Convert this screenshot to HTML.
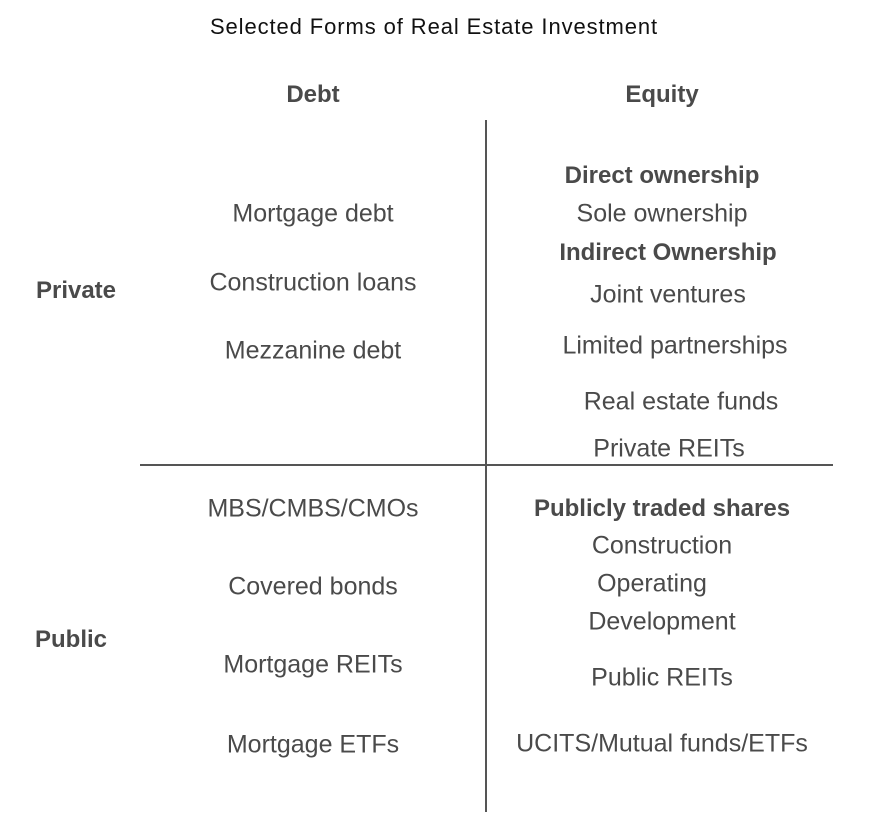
<!DOCTYPE html>
<html><head><meta charset="utf-8"><style>
body{margin:0;width:870px;height:821px;background:#fff;position:relative;overflow:hidden;font-family:"Liberation Sans",sans-serif;}
.t{position:absolute;transform:translate(-50%,-50%);white-space:nowrap;color:#4a4a4a;font-size:25px;}
.b{font-weight:bold;font-size:24px;}
.ln{position:absolute;background:#555;}
</style></head><body>
<div class="t" style="left:434px;top:27px;color:#111;font-size:22px;letter-spacing:0.9px;">Selected Forms of Real Estate Investment</div>
<div class="ln" style="left:485px;top:120px;width:2px;height:692px;"></div>
<div class="ln" style="left:140px;top:464px;width:693px;height:2px;"></div>
<div class="t b" style="left:313px;top:95px;">Debt</div>
<div class="t b" style="left:662px;top:95px;">Equity</div>
<div class="t b" style="left:76px;top:291px;">Private</div>
<div class="t b" style="left:71px;top:640px;">Public</div>
<div class="t" style="left:313px;top:214px;">Mortgage debt</div>
<div class="t" style="left:313px;top:283px;">Construction loans</div>
<div class="t" style="left:313px;top:351px;">Mezzanine debt</div>
<div class="t" style="left:313px;top:509px;">MBS/CMBS/CMOs</div>
<div class="t" style="left:313px;top:587px;">Covered bonds</div>
<div class="t" style="left:313px;top:665px;">Mortgage REITs</div>
<div class="t" style="left:313px;top:745px;">Mortgage ETFs</div>
<div class="t b" style="left:662px;top:176px;">Direct ownership</div>
<div class="t" style="left:662px;top:214px;">Sole ownership</div>
<div class="t b" style="left:668px;top:253px;">Indirect Ownership</div>
<div class="t" style="left:668px;top:295px;">Joint ventures</div>
<div class="t" style="left:675px;top:346px;">Limited partnerships</div>
<div class="t" style="left:681px;top:402px;">Real estate funds</div>
<div class="t" style="left:669px;top:449px;">Private REITs</div>
<div class="t b" style="left:662px;top:509px;">Publicly traded shares</div>
<div class="t" style="left:662px;top:546px;">Construction</div>
<div class="t" style="left:652px;top:584px;">Operating</div>
<div class="t" style="left:662px;top:622px;">Development</div>
<div class="t" style="left:662px;top:678px;">Public REITs</div>
<div class="t" style="left:662px;top:744px;">UCITS/Mutual funds/ETFs</div>
</body></html>
